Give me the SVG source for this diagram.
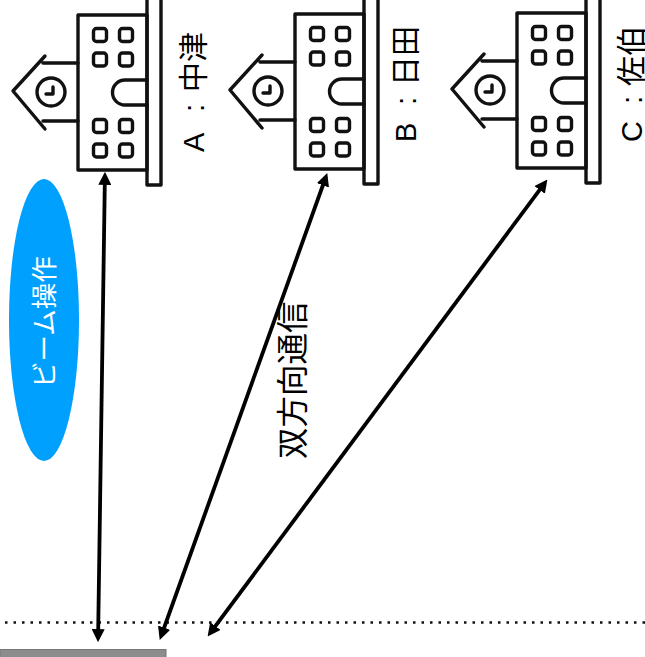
<svg xmlns="http://www.w3.org/2000/svg" width="645" height="657" viewBox="0 0 645 657">
<style>
.s{fill:none;stroke:#111;stroke-width:3.400;stroke-linejoin:round;stroke-linecap:round}
.c{stroke:#000;stroke-width:3.800;fill:none;marker-start:url(#a);marker-end:url(#a)}
.t{font-family:"Liberation Sans","Noto Sans CJK JP",sans-serif;fill:#000}
</style>
<defs>
<marker id="a" viewBox="0 0 10 10" refX="6" refY="5" markerWidth="13" markerHeight="13" markerUnits="userSpaceOnUse" orient="auto-start-reverse"><path d="M0 0L10 5L0 10Z" fill="#000"/></marker>
<g id="school">
<path class="s" d="M78 63H43M78 121H43M45 56L13 91L45 129"/>
<circle class="s" cx="51" cy="92" r="14"/>
<path class="s" d="M53 87V94H46"/>
<rect class="s" x="78" y="15" width="69" height="155"/>
<rect class="s" x="147" y="-2" width="14" height="187"/>
<path class="s" d="M147 80H125A12.500 12.500 0 0 0 125 105H147"/>
<rect class="s" x="93.500" y="28.500" width="13" height="13" rx="3"/>
<rect class="s" x="119.500" y="28.500" width="13" height="13" rx="3"/>
<rect class="s" x="93.500" y="53" width="13" height="13" rx="3"/>
<rect class="s" x="119.500" y="53" width="13" height="13" rx="3"/>
<rect class="s" x="93.500" y="119.500" width="13" height="13" rx="3"/>
<rect class="s" x="119.500" y="119.500" width="13" height="13" rx="3"/>
<rect class="s" x="93.500" y="144" width="13" height="13" rx="3"/>
<rect class="s" x="119.500" y="144" width="13" height="13" rx="3"/>
</g>
</defs>
<rect width="645" height="657" fill="#fff"/>
<g id="base-line">
<line x1="5" y1="622.500" x2="645" y2="622.500" stroke="#111" stroke-width="2.500" stroke-dasharray="2.500 6"/>
<rect x="0" y="649.500" width="166" height="8" fill="#8c8c8c" stroke="#777" stroke-width="1"/>
</g>
<g id="node-a"><use href="#school"/>
<text class="t" transform="translate(204 152) rotate(-90)" font-size="29">A<tspan x="40">:</tspan><tspan x="60" font-size="30">中津</tspan></text></g>
<g id="node-b"><use href="#school" x="217" y="-1"/>
<text class="t" transform="translate(416 142) rotate(-90)" font-size="29">B<tspan x="37">:</tspan><tspan x="56" font-size="30">日田</tspan></text></g>
<g id="node-c"><use href="#school" x="439" y="-2"/>
<text class="t" transform="translate(642 142) rotate(-90)" font-size="29">C<tspan x="38">:</tspan><tspan x="56" font-size="30">佐伯</tspan></text></g>
<g id="beam">
<ellipse cx="44" cy="320" rx="35" ry="141" fill="#00a0ff"/>
<text class="t" transform="translate(54 388) rotate(-90)" font-size="26.500" style="fill:#fff">ビーム操作</text>
</g>
<g id="connectors">
<line class="c" x1="104.900" y1="177" x2="98.100" y2="637"/>
<line class="c" x1="325.500" y1="178" x2="161.500" y2="635"/>
<line class="c" x1="544.300" y1="183.600" x2="210.700" y2="632.400"/>
</g>
<text id="label" class="t" transform="translate(304 459) rotate(-90)" font-size="31.500">双方向通信</text>
</svg>
